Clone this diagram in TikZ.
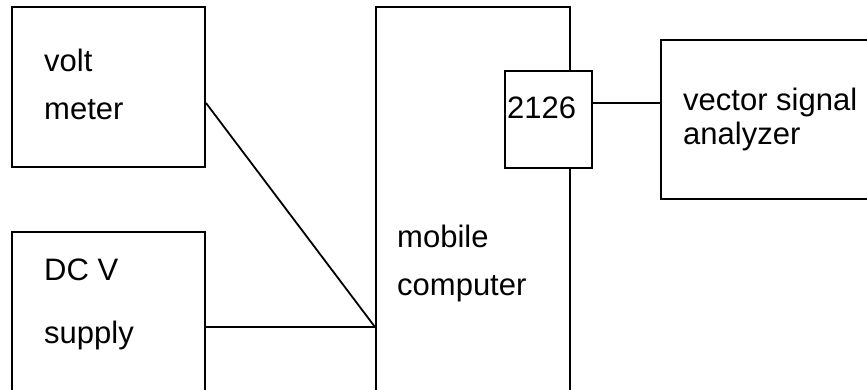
\documentclass[tikz,border=0pt]{standalone}
\usepackage{fontspec}
\setmainfont{Liberation Sans}
\usetikzlibrary{calc, positioning}

\begin{document}
\begin{tikzpicture}[
  x=1pt, y=-1pt,
  box/.style={draw=black, line width=2pt, rectangle, inner sep=0pt},
  chipbox/.style={box, fill=white},
  wire/.style={draw=black, line width=1.8pt},
  lab/.style={font=\fontsize{31}{48}\selectfont, inner sep=0pt, anchor=base west, align=left}
]

\useasboundingbox (0,0) rectangle (867,390);
\clip (0,0) rectangle (867,390);

\node[box, minimum width=193pt, minimum height=160pt] (volt) at (108.5,87) {};
\node[box, minimum width=193pt, minimum height=190pt] (dcv) at (108.5,327) {};
\node[box, minimum width=194pt, minimum height=410pt] (comp) at (473,212) {};
\node[chipbox, minimum width=87pt, minimum height=97pt] (chip) at (548.5,119.5) {};
\node[box, minimum width=240pt, minimum height=159pt] (vsa) at (781,119.5) {};

\node[lab] (voltlab) at (44,120) {volt\\meter};
\node[lab] (dcvlab) at (44,343) {DC V\\[15pt]supply};
\node[lab] (complab) at (397,295) {mobile\\computer};
\node[lab] (chiplab) at (507,119) {2126};
\node[lab, font=\fontsize{31}{34}\selectfont] (vsalab) at (683,145) {vector signal\\analyzer};

\coordinate (voltout) at (volt.east |- 0,103);
\coordinate (dcvout) at (dcv.east |- 0,327);
\coordinate (compin) at (comp.west |- 0,327);
\coordinate (chipout) at (chip.east |- 0,103);
\coordinate (vsain) at (vsa.west |- 0,103);

\draw[wire] (voltout) -- (compin);
\draw[wire] (dcvout) -- (compin);
\draw[wire] (chipout) -- (vsain);

\end{tikzpicture}
\end{document}
